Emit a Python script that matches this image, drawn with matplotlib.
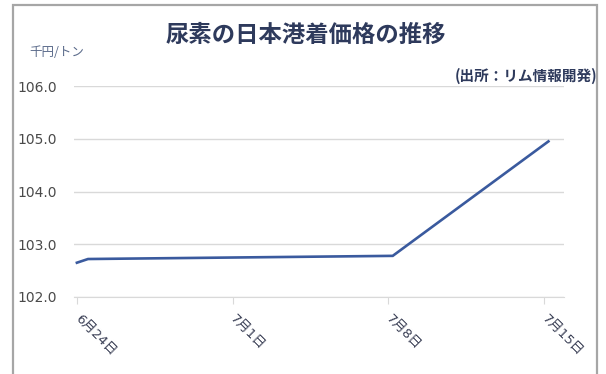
import matplotlib.pyplot as plt
from matplotlib.patches import Rectangle

plt.rcParams['font.family'] = ['Noto Sans CJK JP', 'DejaVu Sans']

# days since 6/24 and price (thousand yen per ton)
days = [0, 0.5, 14.2, 21.2]
price = [102.65, 102.72, 102.78, 104.95]

tick_days = [0, 7, 14, 21]
tick_labels = ["6月24日", "7月1日", "7月8日", "7月15日"]
y_ticks = [102.0, 103.0, 104.0, 105.0, 106.0]

W, H = 606, 374
fig = plt.figure(figsize=(W / 100, H / 100), dpi=100)
ax = fig.add_axes([74 / W, 1 - 297 / H, (564 - 74) / W, (297 - 86) / H])

ax.plot(days, price, color="#3a5a9e", linewidth=1.9, solid_joinstyle="miter")

ax.set_xlim(-0.13, 21.9)
ax.set_ylim(102, 106)
ax.set_yticks(y_ticks)
ax.set_yticklabels(["%.1f" % v for v in y_ticks], family=["DejaVu Sans"])
ax.set_xticks(tick_days)
ax.set_xticklabels(tick_labels, rotation=-45, ha="left", va="center",
                   rotation_mode="anchor",
                   family=["DejaVu Sans", "Noto Sans CJK JP"])
ax.grid(axis="y", color="#d9d9d9", linewidth=1)
ax.set_axisbelow(True)
for s in ["top", "right", "left"]:
    ax.spines[s].set_visible(False)
ax.spines["bottom"].set_color("#d9d9d9")
ax.tick_params(axis="y", length=0, pad=12, labelsize=10, labelcolor="#4a4a4a")
ax.tick_params(axis="x", length=5, color="#d9d9d9", pad=9, labelsize=9.5,
               labelcolor="#3a3f55")

fig.text(306 / W, 1 - 35 / H, "尿素の日本港着価格の推移", ha="center", va="center",
         fontsize=16.8, fontweight="bold", color="#2e3a5c")
fig.text(29 / W, 1 - 53 / H, "千円/トン", ha="left", va="center",
         fontsize=9, color="#5a6a8a")
fig.text(597 / W, 1 - 76 / H, "(出所：リム情報開発)", ha="right", va="center",
         fontsize=10.5, fontweight="bold", color="#2e3a5c")

# outer frame (runs off the bottom of the picture)
fig.patches.append(Rectangle((13 / W, -0.1), (597 - 13) / W, 1.1 - 5 / H,
                             transform=fig.transFigure, fill=False,
                             edgecolor="#a6a6a6", linewidth=1.6))

fig.savefig("out.png", dpi=100)
